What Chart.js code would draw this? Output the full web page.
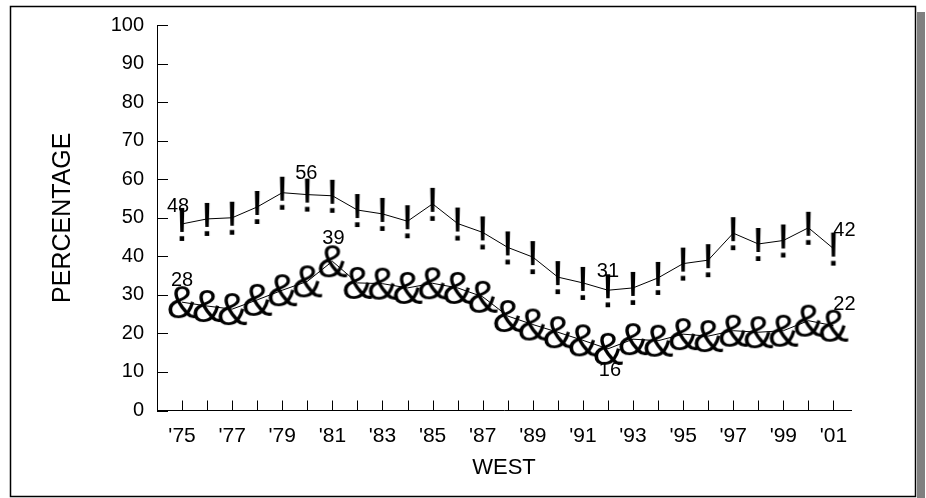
<!DOCTYPE html>
<html>
<head>
<meta charset="utf-8">
<script src="https://cdn.jsdelivr.net/npm/chart.js@4.4.0/dist/chart.umd.min.js"></script>
<style>
html, body { margin: 0; padding: 0; background: #fff; }
</style>
</head>
<body>
<canvas id="grafica" width="926" height="498"></canvas>
<script>
// DATOS

const years = [1975, 1976, 1977, 1978, 1979, 1980, 1981, 1982, 1983, 1984, 1985, 1986, 1987, 1988,
  1989, 1990, 1991, 1992, 1993, 1994, 1995, 1996, 1997, 1998, 1999, 2000, 2001];

const topValues = [48.4, 49.7, 50.0, 52.8, 56.5, 56.0, 55.7, 52.0, 51.0, 49.1, 53.6, 48.5, 46.2, 42.3,
  39.8, 34.6, 33.1, 31.2, 31.8, 34.4, 38.1, 39.0, 46.0, 43.2, 44.1, 47.4, 42.0];

const bottomValues = [28.1, 27.1, 26.3, 28.7, 31.2, 33.5, 38.7, 33.1, 32.9, 31.8, 33.0, 31.8, 29.5, 24.5,
  22.3, 20.3, 18.2, 16.0, 18.5, 18.1, 19.8, 19.3, 20.7, 20.3, 20.7, 23.3, 22.0];

const yTicks = [0, 10, 20, 30, 40, 50, 60, 70, 80, 90, 100];

// puntos con etiqueta de valor
const topLabelIdx = [0, 5, 17, 26];
const bottomLabelIdx = [0, 6, 17, 26];

const FONT = "'Liberation Sans', Arial, sans-serif";


// MARCADORES (glifos de texto)

function glyph(ch, size, w, h){
  const c = document.createElement('canvas');
  c.width = w;
  c.height = h;
  const g = c.getContext('2d');
  g.font = size + 'px ' + FONT;
  g.fillStyle = '#000';
  g.textAlign = 'center';
  g.textBaseline = 'alphabetic';
  const m = g.measureText(ch);
  const base = h / 2 + (m.actualBoundingBoxAscent - m.actualBoundingBoxDescent) / 2;
  g.fillText(ch, w / 2, base);
  return c;
}

const bang = glyph('!', 48, 20, 50);
const amp = glyph('&', 46, 44, 54);


// MARCO CON SOMBRA

const frame = {
  id: 'frame',
  beforeDraw(chart){
    const c = chart.ctx;
    c.save();
    c.fillStyle = '#fff';
    c.fillRect(0, 0, chart.width, chart.height);
    c.fillStyle = '#808080';
    c.fillRect(917, 12, 8, 486);
    c.strokeStyle = '#000';
    c.lineWidth = 1.5;
    c.strokeRect(10.5, 6.5, 905, 490);
    c.restore();
  }
};


// MARCAS DE LOS EJES (hacia adentro)

const marks = {
  id: 'marks',
  afterDraw(chart){
    const c = chart.ctx;
    const x = chart.scales.x;
    const y = chart.scales.y;
    const area = chart.chartArea;
    c.save();
    c.strokeStyle = '#000';
    c.lineWidth = 1;
    c.beginPath();
    years.forEach(v => {
      const px = Math.round(x.getPixelForValue(v)) + 0.5;
      c.moveTo(px, area.bottom);
      c.lineTo(px, area.bottom - 10);
    });
    yTicks.forEach(v => {
      const py = Math.round(y.getPixelForValue(v)) + 0.5;
      c.moveTo(area.left, py);
      c.lineTo(area.left + 11, py);
    });
    c.stroke();
    c.restore();
  }
};


// ETIQUETAS DE VALOR

const valueLabels = {
  id: 'valueLabels',
  afterDatasetsDraw(chart){
    const c = chart.ctx;
    const offsets = [
      [[-4, -17], [-1, -21], [0, -19], [11, -18]],
      [[0, -22], [1, -23], [2, 22], [11, -21]]
    ];
    const idxs = [topLabelIdx, bottomLabelIdx];
    const vals = [topValues, bottomValues];
    c.save();
    c.font = '20px ' + FONT;
    c.fillStyle = '#000';
    c.textAlign = 'center';
    c.textBaseline = 'middle';
    [0, 1].forEach(d => {
      const pts = chart.getDatasetMeta(d).data;
      idxs[d].forEach((i, k) => {
        const p = pts[i];
        c.fillText(String(Math.round(vals[d][i])), p.x + offsets[d][k][0], p.y + offsets[d][k][1]);
      });
    });
    c.restore();
  }
};


// GRÁFICA

const ctx = document.getElementById('grafica');

new Chart(ctx, {

type: 'line',

data: {
  datasets: [
    {
      data: years.map((v, i) => ({ x: v, y: topValues[i] })),
      borderColor: '#000',
      borderWidth: 1,
      pointStyle: bang,
      pointRadius: 3,
      fill: false,
      tension: 0
    },
    {
      data: years.map((v, i) => ({ x: v, y: bottomValues[i] })),
      borderColor: '#000',
      borderWidth: 1,
      pointStyle: amp,
      pointRadius: 3,
      fill: false,
      tension: 0
    }
  ]
},

options: {
  responsive: false,
  animation: false,
  layout: { padding: { left: 0, top: 21.7, right: 75, bottom: 0 } },
  plugins: {
    legend: { display: false },
    tooltip: { enabled: false }
  },
  scales: {
    x: {
      type: 'linear',
      min: 1974,
      max: 2001.7,
      afterBuildTicks: s => { s.ticks = years.map(v => ({ value: v })); },
      afterFit: s => { s.height = 87.5; },
      grid: { display: false, drawTicks: false },
      border: { display: true, color: '#000', width: 1 },
      ticks: {
        autoSkip: false,
        maxRotation: 0,
        padding: 13,
        color: '#000',
        font: { family: FONT, size: 21 },
        callback: v => (v % 2 === 1) ? "'" + String(v).slice(2) : ''
      },
      title: {
        display: true,
        text: 'WEST',
        color: '#000',
        font: { family: FONT, size: 22 },
        padding: { top: 0, bottom: 17 }
      }
    },
    y: {
      min: 0,
      max: 100,
      afterBuildTicks: s => { s.ticks = yTicks.map(v => ({ value: v })); },
      afterFit: s => { s.width = 157; },
      grid: { display: false, drawTicks: false },
      border: { display: true, color: '#000', width: 1 },
      ticks: {
        padding: 13,
        color: '#000',
        font: { family: FONT, size: 20 }
      },
      title: {
        display: true,
        text: 'PERCENTAGE',
        color: '#000',
        font: { family: FONT, size: 25 },
        padding: { top: 48, bottom: 0 }
      }
    }
  }
},

plugins: [frame, marks, valueLabels]

});
</script>
</body>
</html>
